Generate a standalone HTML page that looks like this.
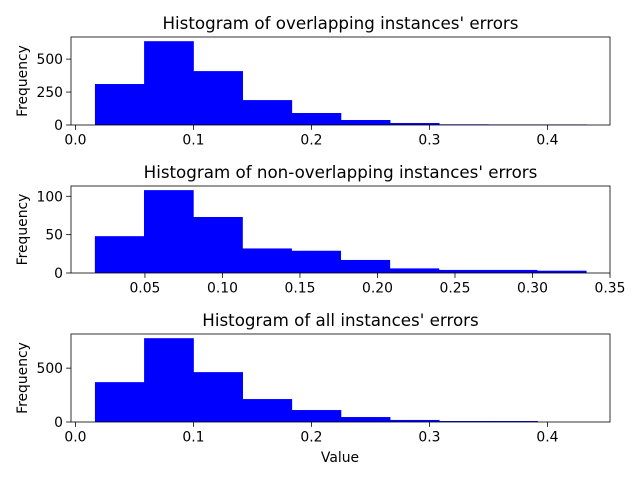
<!DOCTYPE html>
<html><head><meta charset="utf-8"><style>
body{margin:0;background:#fff}
svg text{font-family:"DejaVu Sans","Liberation Sans",sans-serif;fill:#000}
</style></head><body>
<svg id="fig" width="640" height="480" xmlns="http://www.w3.org/2000/svg"></svg>
<script>
const titles = ["Histogram of overlapping instances' errors","Histogram of non-overlapping instances' errors","Histogram of all instances' errors"];
const binStart = [0.0165, 0.0177, 0.0165];
const binEnd = [0.433, 0.3345, 0.433];
const counts1 = [311, 636, 409, 189, 91, 38, 15, 5, 4, 4];
const counts2 = [48, 108, 73, 32, 29, 17, 6, 4, 4, 3];
const counts3 = [370, 778, 463, 213, 111, 46, 19, 9, 9, 0];
const xTicks1 = [0.0, 0.1, 0.2, 0.3, 0.4];
const xTickLabels1 = ["0.0","0.1","0.2","0.3","0.4"];
const xTicks2 = [0.05,0.10,0.15,0.20,0.25,0.30,0.35];
const xTickLabels2 = ["0.05","0.10","0.15","0.20","0.25","0.30","0.35"];
const yTicks1 = [0, 250, 500];
const yTicks2 = [0, 50, 100];
const yTicks3 = [0, 500];
const xRanges = [[-0.0038, 0.453],[0.0023, 0.35],[-0.0038, 0.453]];

const NS="http://www.w3.org/2000/svg";
const svg=document.getElementById('fig');
function mk(tag,attrs,parent){const e=document.createElementNS(NS,tag);for(const k in attrs)e.setAttribute(k,attrs[k]);(parent||svg).appendChild(e);return e;}

const panels=[
 {top:37,bottom:125,counts:counts1,xt:xTicks1,xl:xTickLabels1,yt:yTicks1},
 {top:186,bottom:273,counts:counts2,xt:xTicks2,xl:xTickLabels2,yt:yTicks2},
 {top:334,bottom:422,counts:counts3,xt:xTicks1,xl:xTickLabels1,yt:yTicks3}
];
const L=71,R=610;
panels.forEach((p,i)=>{
  const g=mk('g',{});
  
  
  const [x0,x1]=xRanges[i];
  const ymax=Math.max(...p.counts)*1.05;
  const xs=v=>L+(v-x0)/(x1-x0)*(R-L);
  const ys=v=>p.bottom-v/ymax*(p.bottom-p.top);
  const n=p.counts.length, w=(binEnd[i]-binStart[i])/n;
  p.counts.forEach((c,j)=>{
    const a=xs(binStart[i]+j*w), b=xs(binStart[i]+(j+1)*w);
    const r=mk('rect',{x:a,y:ys(c),width:b-a+0.6,height:p.bottom-ys(c),fill:'#0000ff'},g);
    
    
  });
  const fr=mk('rect',{x:L,y:p.top,width:R-L,height:p.bottom-p.top,fill:'none',stroke:'#000','stroke-width':0.8},g);
  
  
  p.xt.forEach((t,j)=>{
    const x=xs(t);
    mk('line',{x1:x,x2:x,y1:p.bottom,y2:p.bottom+4.9,stroke:'#000','stroke-width':0.8},g);
    const tx=mk('text',{x:x,y:p.bottom+19.5,'font-size':13.9,'text-anchor':'middle'},g);
    tx.textContent=p.xl[j];
    
    
  });
  p.yt.forEach(t=>{
    const y=ys(t);
    mk('line',{x1:L-4.9,x2:L,y1:y,y2:y,stroke:'#000','stroke-width':0.8},g);
    const tx=mk('text',{x:L-8,y:y+5,'font-size':13.9,'text-anchor':'end'},g);
    tx.textContent=String(t);
    
    
  });
  const tt=mk('text',{x:(L+R)/2,y:p.top-8,'font-size':16.7,'text-anchor':'middle'},g);
  tt.textContent=titles[i];
  
  
  const cy=(p.top+p.bottom)/2;
  const yl=mk('text',{x:27,y:cy,'font-size':13.9,'text-anchor':'middle',transform:'rotate(-90 27 '+cy+')'},g);
  yl.textContent='Frequency';
  
  
});
const xl=mk('text',{x:340,y:462,'font-size':13.9,'text-anchor':'middle'});
xl.textContent='Value';


</script>
</body></html>
